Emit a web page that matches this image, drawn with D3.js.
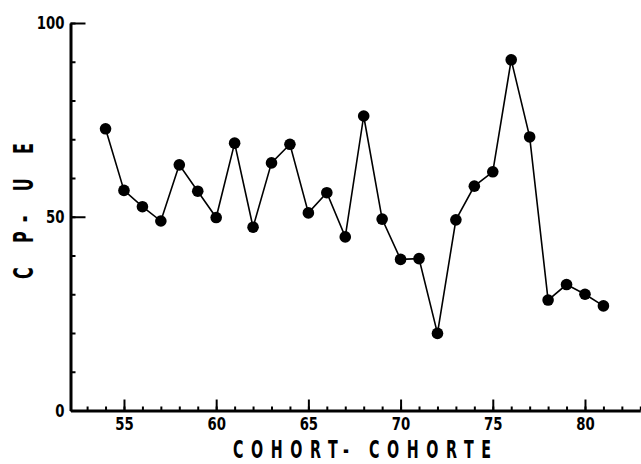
<!DOCTYPE html>
<html>
<head>
<meta charset="utf-8">
<script src="https://cdn.jsdelivr.net/npm/d3@7"></script>
<style>
  html, body { margin: 0; padding: 0; background: #fff; }
  svg { display: block; }
  text { font-family: "Liberation Sans Narrow", "DejaVu Sans Condensed", "Liberation Sans", sans-serif; font-weight: bold; fill: #000; }
</style>
</head>
<body>
<svg id="chart" width="641" height="464"></svg>
<script>
// Cohort years and catch-per-unit-effort values
const years = [54, 55, 56, 57, 58, 59, 60, 61, 62, 63, 64, 65, 66, 67,
               68, 69, 70, 71, 72, 73, 74, 75, 76, 77, 78, 79, 80, 81];
const cpue  = [72.7, 56.8, 52.6, 48.9, 63.4, 56.6, 49.8, 69.0, 47.3, 63.9, 68.7, 51.0, 56.2, 44.8,
               76.0, 49.4, 39.0, 39.2, 19.9, 49.2, 57.9, 61.6, 90.5, 70.6, 28.5, 32.5, 30.0, 27.0];

const xMajorTicks = [55, 60, 65, 70, 75, 80];
const xMinorTicks = d3.range(53, 84);
const yMajorTicks = [0, 50, 100];
const yMinorTicks = d3.range(0, 101, 10);

const xTitle = "COHORT- COHORTE";
const yTitle = "C P- U E";

const svg = d3.select("#chart");

const x = d3.scaleLinear().domain([52.1, 83]).range([70.5, 640.3]);
const y = d3.scaleLinear().domain([0, 100]).range([410.5, 23]);

// Axis frames
function styleAxis(g) {
  g.select(".domain").attr("stroke", "#000").attr("stroke-width", 3);
  g.selectAll(".tick line").attr("stroke", "#000").attr("stroke-width", 2);
}

// Narrow, tall lettering: squeeze each label horizontally about its anchor
function narrow(sel, k) {
  sel.each(function () {
    const t = d3.select(this);
    const tx = +t.attr("x") || 0, ty = +t.attr("y") || 0;
    t.attr("transform", `translate(${tx},${ty}) scale(${k},1) translate(${-tx},${-ty})`);
  });
}

// Y axis: small inside ticks every 10, longer ticks with labels at 0/50/100
svg.append("g")
  .attr("transform", `translate(${x(52.1)},0)`)
  .call(d3.axisLeft(y).tickValues(yMinorTicks).tickSize(-5).tickSizeOuter(0).tickFormat(""))
  .call(styleAxis);

const yMajor = svg.append("g")
  .attr("transform", `translate(${x(52.1)},0)`)
  .call(d3.axisLeft(y).tickValues(yMajorTicks).tickSize(-15).tickSizeOuter(0).tickPadding(6).tickFormat(d3.format("d")))
  .call(styleAxis);
yMajor.select(".domain").remove();
yMajor.selectAll(".tick text").attr("font-size", 18).attr("text-anchor", "end").call(narrow, 0.82);
yMajor.selectAll(".tick").filter(d => d === 0).select("line").remove();

// X axis: yearly minor ticks, labelled ticks every 5 years
svg.append("g")
  .attr("transform", `translate(0,${y(0)})`)
  .call(d3.axisBottom(x).tickValues(xMinorTicks).tickSize(-4).tickSizeOuter(0).tickFormat(""))
  .call(styleAxis);

const xMajor = svg.append("g")
  .attr("transform", `translate(0,${y(0)})`)
  .call(d3.axisBottom(x).tickValues(xMajorTicks).tickSize(-11).tickSizeOuter(0).tickPadding(7).tickFormat(d3.format("d")))
  .call(styleAxis);
xMajor.select(".domain").remove();
xMajor.selectAll(".tick text").attr("font-size", 18).call(narrow, 0.82);

// Series line and markers
const pts = years.map((yr, i) => ({ yr, v: cpue[i] }));

svg.append("path")
  .datum(pts)
  .attr("fill", "none")
  .attr("stroke", "#000")
  .attr("stroke-width", 1.6)
  .attr("d", d3.line().x(d => x(d.yr)).y(d => y(d.v)));

svg.append("g")
  .selectAll("circle")
  .data(pts)
  .join("circle")
  .attr("cx", d => x(d.yr))
  .attr("cy", d => y(d.v))
  .attr("r", 5.8)
  .attr("fill", "#000");

// Axis titles (spread-out condensed capitals)
const squeeze = 0.66;
svg.append("g")
  .attr("transform", `translate(233,458) scale(${squeeze},1)`)
  .append("text")
  .attr("font-size", 24)
  .attr("textLength", 258 / squeeze)
  .attr("lengthAdjust", "spacing")
  .text(xTitle);

svg.append("g")
  .attr("transform", `translate(33,279) rotate(-90) scale(${squeeze},1)`)
  .append("text")
  .attr("font-size", 27)
  .attr("textLength", 136 / squeeze)
  .attr("lengthAdjust", "spacing")
  .text(yTitle);
</script>
</body>
</html>
